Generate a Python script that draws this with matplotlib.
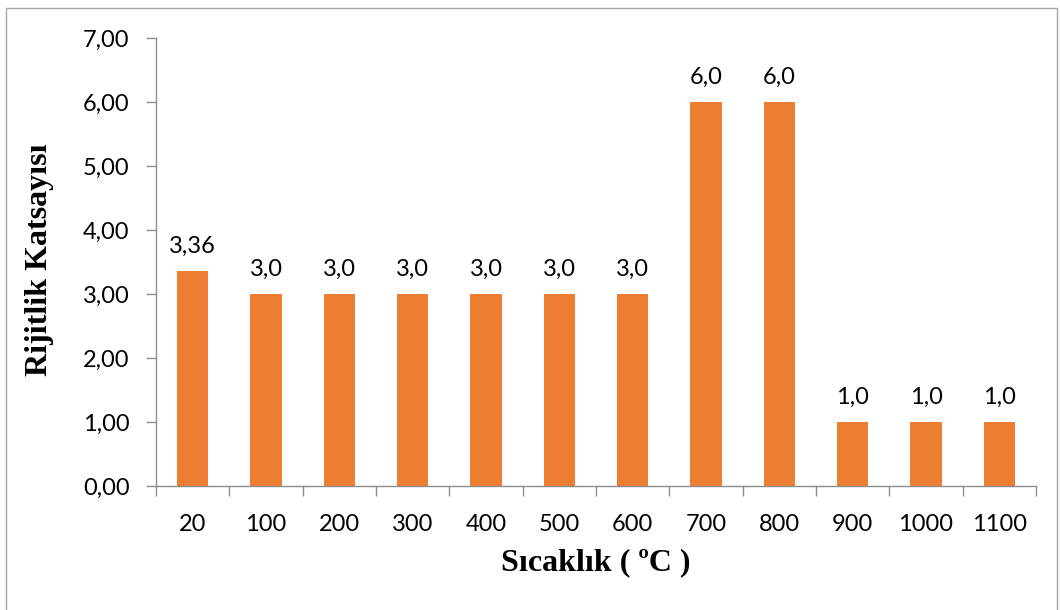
import matplotlib
matplotlib.use("Agg")
import matplotlib.pyplot as plt
from matplotlib.patches import Rectangle
import numpy as np

categories = ["20", "100", "200", "300", "400", "500", "600", "700", "800", "900", "1000", "1100"]
values = [3.36, 3.0, 3.0, 3.0, 3.0, 3.0, 3.0, 6.0, 6.0, 1.0, 1.0, 1.0]
value_labels = ["3,36", "3,0", "3,0", "3,0", "3,0", "3,0", "3,0", "6,0", "6,0", "1,0", "1,0", "1,0"]
y_ticks = [0, 1, 2, 3, 4, 5, 6, 7]

W, H = 1060, 610
fig = plt.figure(figsize=(W / 100, H / 100), dpi=100)
ax = fig.add_axes([156 / W, 1 - 486 / H, (1036 - 156) / W, (486 - 38) / H])

bar_color = "#ED7D31"
axis_color = "#8C8C8C"
tick_font = "Lato"
fs = 17

x = np.arange(len(categories))
ax.bar(x, values, width=0.43, color=bar_color, zorder=2)

for xi, v, lab in zip(x, values, value_labels):
    ax.annotate(lab, (xi, v), xytext=(0, 10), textcoords="offset points",
                ha="center", va="bottom", fontsize=fs, family=tick_font, color="black")

ax.set_xlim(-0.5, len(categories) - 0.5)
ax.set_ylim(0, 7)

# boundary ticks on x, labels at bar centres
ax.set_xticks(np.arange(-0.5, len(categories), 1.0))
ax.set_xticklabels([])
ax.set_xticks(x, minor=True)
ax.set_xticklabels(categories, minor=True, fontsize=fs, family=tick_font)
ax.tick_params(axis="x", which="major", length=7, color=axis_color, width=1)
ax.tick_params(axis="x", which="minor", length=0, pad=20)

ax.set_yticks(y_ticks)
ax.set_yticklabels([f"{t:.2f}".replace(".", ",") for t in y_ticks], fontsize=fs, family=tick_font)
ax.tick_params(axis="y", length=7, color=axis_color, width=1, pad=12)

for s in ["top", "right"]:
    ax.spines[s].set_visible(False)
for s in ["left", "bottom"]:
    ax.spines[s].set_color(axis_color)
    ax.spines[s].set_linewidth(1)

fig.text(596 / W, 1 - 563 / H, "Sıcaklık ( ºC )", ha="center", va="center",
         fontsize=23, fontweight="bold", family="Liberation Serif")
fig.text(40 / W, 1 - 260 / H, "Rijitlik Katsayısı", ha="center", va="center",
         rotation=90, fontsize=23, fontweight="bold", family="Liberation Serif")

fig.patches.append(Rectangle((6 / W, -0.05), (1057 - 6) / W, 1.05 - 8 / H,
                             transform=fig.transFigure, fill=False,
                             edgecolor="#A6A6A6", linewidth=1))

fig.savefig("out.png", dpi=100)
